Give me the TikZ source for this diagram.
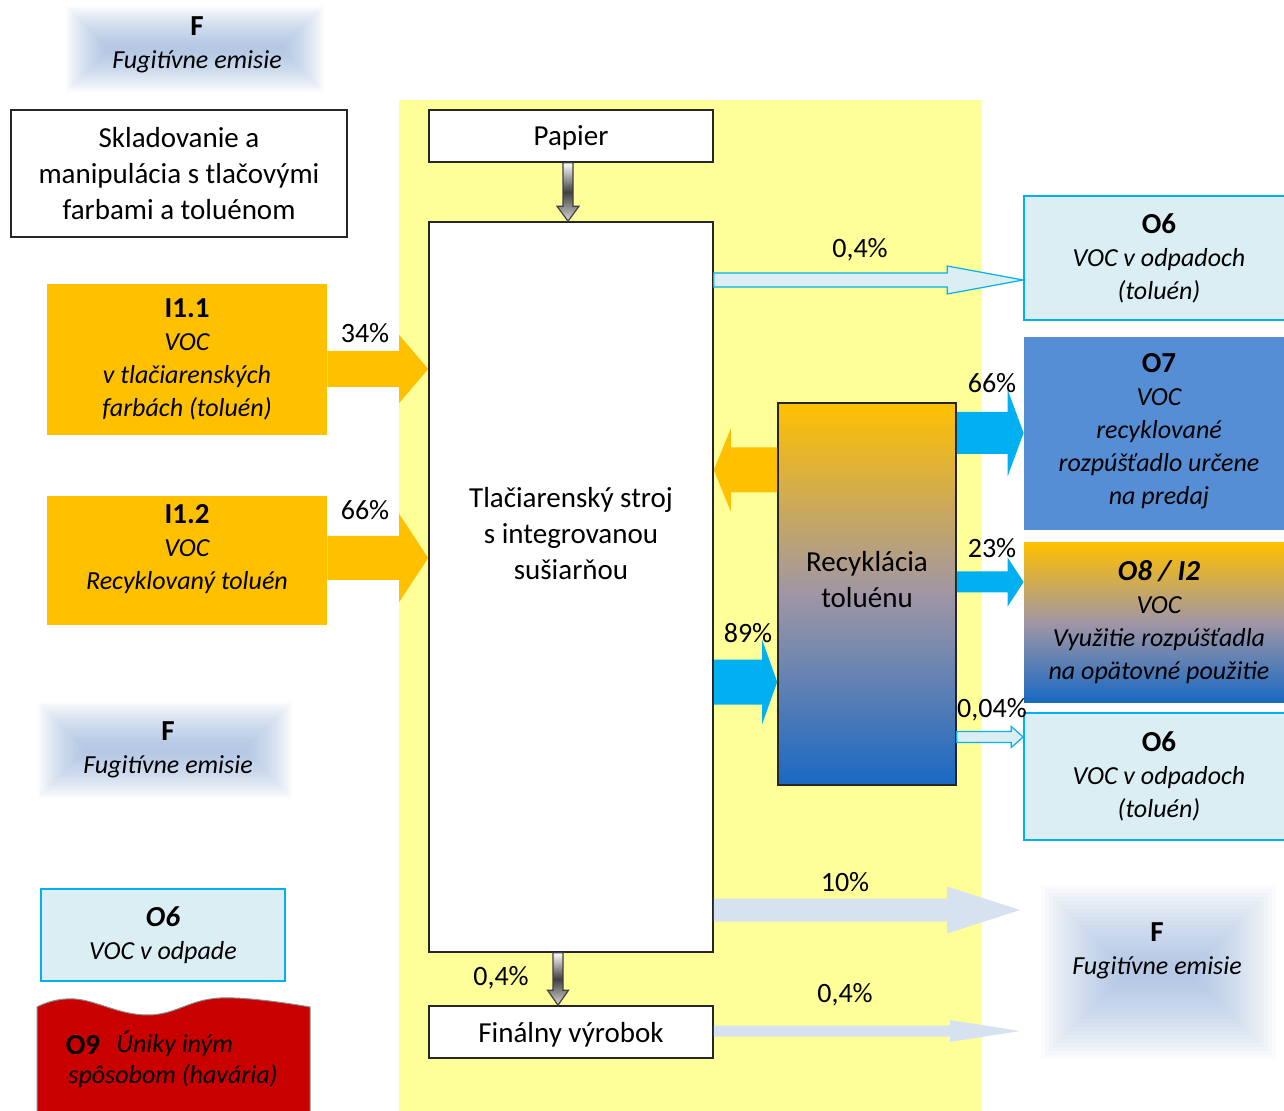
\documentclass[tikz,border=0pt]{standalone}
\usepackage{fontspec}
\setmainfont{Carlito}
\usetikzlibrary{calc}

\definecolor{band}{RGB}{255,255,153}
\definecolor{ink}{RGB}{255,192,0}
\definecolor{sky}{RGB}{0,176,240}
\definecolor{pale}{RGB}{219,238,244}
\definecolor{steel}{RGB}{85,142,213}
\definecolor{deepblue}{RGB}{25,105,195}
\definecolor{mist}{RGB}{214,226,240}
\definecolor{haze}{RGB}{150,180,222}
\definecolor{alarm}{RGB}{200,0,0}

% horizontal block arrow: style, tail, tip, shaft half width, head half width, head length (signed)
\newcommand\blockarrowh[6]{%
  \path[#1] ($(#2)+(0,{-(#4)})$) -- ($(#3)+({-(#6)},{-(#4)})$) -- ($(#3)+({-(#6)},{-(#5)})$)
    -- (#3) -- ($(#3)+({-(#6)},#5)$) -- ($(#3)+({-(#6)},#4)$) -- ($(#2)+(0,#4)$) -- cycle;}
% vertical (downward) block arrow
\newcommand\blockarrowv[6]{%
  \path[#1] ($(#2)+({-(#4)},0)$) -- ($(#3)+({-(#4)},{-(#6)})$) -- ($(#3)+({-(#5)},{-(#6)})$)
    -- (#3) -- ($(#3)+(#5,{-(#6)})$) -- ($(#3)+(#4,{-(#6)})$) -- ($(#2)+(#4,0)$) -- cycle;}
% soft-edged glow behind the fugitive emission labels
\newcommand\softglow[4]{%
  \pgfmathsetmacro\glowstep{min(#3-#1,#4-#2)/44}%
  \foreach \k in {0,...,20}
    \fill[haze, fill opacity=0.046]
      ({#1+\glowstep*\k},{#2+\glowstep*\k}) rectangle ({#3-\glowstep*\k},{#4-\glowstep*\k});}
\newcommand\ttl[1]{{\fontsize{14.5}{16.5}\selectfont\bfseries #1}}

\begin{document}
\begin{tikzpicture}[x=0.5pt,y=-0.5pt,
  txt/.style={font=\fontsize{14.5}{18}\selectfont, align=center, inner sep=0pt},
  lab/.style={font=\fontsize{13}{16.5}\selectfont\itshape, align=center, inner sep=0pt},
  pct/.style={font=\fontsize{14}{16}\selectfont, inner sep=0pt},
  whitebox/.style={draw=black!85, line width=0.8pt, fill=white, inner sep=0pt,
    font=\fontsize{14.5}{18}\selectfont, align=center},
  orangebox/.style={fill=ink, inner sep=0pt, font=\fontsize{13}{16.5}\selectfont\itshape, align=center},
  palebox/.style={fill=pale, draw=sky, line width=0.8pt, inner sep=0pt,
    font=\fontsize{13}{16.5}\selectfont\itshape, align=center},
  gradbox/.style={top color=ink, bottom color=deepblue, middle color={rgb,255:red,160;green,150;blue,165}},
  orangearrow/.style={fill=ink},
  bluearrow/.style={fill=sky},
  palearrow/.style={fill=pale, draw=sky, line width=0.6pt},
  mistarrow/.style={fill=mist},
  metalarrow/.style={top color=white, bottom color=white!85!black, middle color=black!75, draw=black!75, line width=0.6pt}
]
\useasboundingbox (0,0) rectangle (1284,1111);
\fill[white] (0,0) rectangle (1284,1111);

% process area
\fill[band] (399,100) rectangle (982,1115);

% fugitive emission glows
\softglow{66}{6}{324}{92}
\softglow{38}{702}{292}{798}
\softglow{1041}{885}{1276}{1059}
\node[lab] (f1) at (197,45) {\ttl{\upshape F}\\Fugitívne emisie};
\node[lab] (f2) at (168,750) {\ttl{\upshape F}\\Fugitívne emisie};
\node[lab] (f3) at (1157,951) {\ttl{\upshape F}\\Fugitívne emisie};

% boxes
\node[whitebox, minimum width=168pt, minimum height=63.5pt] (sklad) at (179,173.5)
  {Skladovanie a\\manipulácia s tlačovými\\farbami a toluénom};
\node[whitebox, minimum width=142pt, minimum height=26pt, text depth=0pt] (papier) at (571,136) {Papier};
\node[whitebox, minimum width=142pt, minimum height=365pt] (machine) at (571,587) {};
\node[txt] (machtxt) at (571,534) {Tlačiarenský stroj\\s integrovanou\\sušiarňou};
\node[whitebox, minimum width=142pt, minimum height=26pt, text depth=0pt] (final) at (571,1032) {Finálny výrobok};

\node[orangebox, minimum width=140pt, minimum height=75.5pt] (i11) at (187,359.5)
  {\ttl{\upshape I1.1}\\VOC\\v tlačiarenských\\farbách (toluén)};
\node[orangebox, minimum width=140pt, minimum height=64.5pt] (i12) at (187,560.5)
  {\ttl{\upshape I1.2}\\VOC\\Recyklovaný toluén\\[-3pt]\mbox{}};

\node[gradbox, draw=black!85, line width=0.8pt, minimum width=89pt, minimum height=191pt, inner sep=0pt] (recyk) at (867,594) {};
\node[txt] (recyktxt) at (867,580) {Recyklácia\\toluénu};

\node[palebox, minimum width=135pt, minimum height=62pt] (o6a) at (1159,258)
  {\ttl{\upshape O6}\\VOC v odpadoch\\(toluén)};
\node[fill=steel, inner sep=0pt, minimum width=135pt, minimum height=96.5pt,
  font=\fontsize{13}{16.5}\selectfont\itshape, align=center] (o7) at (1159,433.5)
  {\ttl{\upshape O7}\\VOC\\recyklované\\rozpúšťadlo určene\\na predaj\\[-12pt]\mbox{}};
\node[gradbox, inner sep=0pt, minimum width=135pt, minimum height=79.5pt,
  font=\fontsize{13}{16.5}\selectfont\itshape, align=center] (o8) at (1159,622.5)
  {\ttl{O8 / I2}\\VOC\\Využitie rozpúšťadla\\na opätovné použitie};
\node[palebox, minimum width=135pt, minimum height=63.5pt] (o6b) at (1159,776.5)
  {\ttl{\upshape O6}\\VOC v odpadoch\\(toluén)};
\node[palebox, minimum width=122pt, minimum height=46pt] (o6c) at (163,935)
  {\ttl{O6}\\VOC v odpade};

% accidental release banner
\path[fill=alarm, draw=black!45, line width=0.5pt] plot[smooth, tension=0.7] coordinates
  {(37,1007) (75,999) (148,1015) (220,998) (310,1007)}
  -- (310,1120) -- (37,1120) -- cycle;
\node[font=\fontsize{14.5}{16}\selectfont\bfseries, inner sep=0pt] (o9) at (83,1045) {O9};
\node[lab, align=left] (o9txt) at (173,1059)
  {\hspace*{24pt}Úniky iným\\[-1pt]spôsobom (havária)};

% flow arrows
\coordinate (a1s) at (i11.east |- 0,369);   \coordinate (a1e) at (machine.west |- 0,369);
\coordinate (a2s) at (i12.east |- 0,558);   \coordinate (a2e) at (machine.west |- 0,558);
\coordinate (a3s) at (machine.east |- 0,280); \coordinate (a3e) at (o6a.west |- 0,280);
\coordinate (a4s) at (recyk.west |- 0,470); \coordinate (a4e) at (machine.east |- 0,470);
\coordinate (a5s) at (machine.east |- 0,682); \coordinate (a5e) at (recyk.west |- 0,682);
\coordinate (a6s) at (recyk.east |- 0,433);  \coordinate (a6e) at (o7.west |- 0,433);
\coordinate (a7s) at (recyk.east |- 0,582);  \coordinate (a7e) at (o8.west |- 0,582);
\coordinate (a8s) at (recyk.east |- 0,737);  \coordinate (a8e) at (o6b.west |- 0,737);
\coordinate (a9s) at (machine.east |- 0,910); \coordinate (a9e) at (1020,910);
\coordinate (a10s) at (final.east |- 0,1031); \coordinate (a10e) at (1020,1031);
\coordinate (d1s) at (papier.south -| 568,0); \coordinate (d1e) at (machine.north -| 568,0);
\coordinate (d2s) at (machine.south -| 558,0); \coordinate (d2e) at (final.north -| 558,0);

\blockarrowh{orangearrow}{a1s}{a1e}{18}{34}{29}
\blockarrowh{orangearrow}{a2s}{a2e}{22}{44}{29}
\blockarrowh{palearrow}{a3s}{a3e}{7}{14}{76}
\blockarrowh{orangearrow}{a4s}{a4e}{22.5}{41.5}{-17}
\blockarrowh{bluearrow}{a5s}{a5e}{22.5}{42}{15}
\blockarrowh{bluearrow}{a6s}{a6e}{21}{43.5}{16}
\blockarrowh{bluearrow}{a7s}{a7e}{10.5}{24.5}{16}
\blockarrowh{palearrow}{a8s}{a8e}{5.5}{10.5}{12}
\blockarrowh{mistarrow}{a9s}{a9e}{11.5}{23.5}{73}
\blockarrowh{mistarrow}{a10s}{a10e}{5.5}{11}{70}
\blockarrowv{metalarrow}{d1s}{d1e}{5}{11}{15}
\blockarrowv{metalarrow}{d2s}{d2e}{5}{10.5}{15}

% flow shares
\node[pct] (p34) at (365,333) {34\%};
\node[pct] (p66a) at (365,510) {66\%};
\node[pct] (p04a) at (860,250) {0,4\%};
\node[pct] (p66b) at (992,383) {66\%};
\node[pct] (p23) at (992,548) {23\%};
\node[pct] (p89) at (748,633) {89\%};
\node[pct] (p004) at (992,710) {0,04\%};
\node[pct] (p10) at (845,882) {10\%};
\node[pct] (p04b) at (845,995) {0,4\%};
\node[pct] (p04c) at (501,978) {0,4\%};
\end{tikzpicture}
\end{document}
